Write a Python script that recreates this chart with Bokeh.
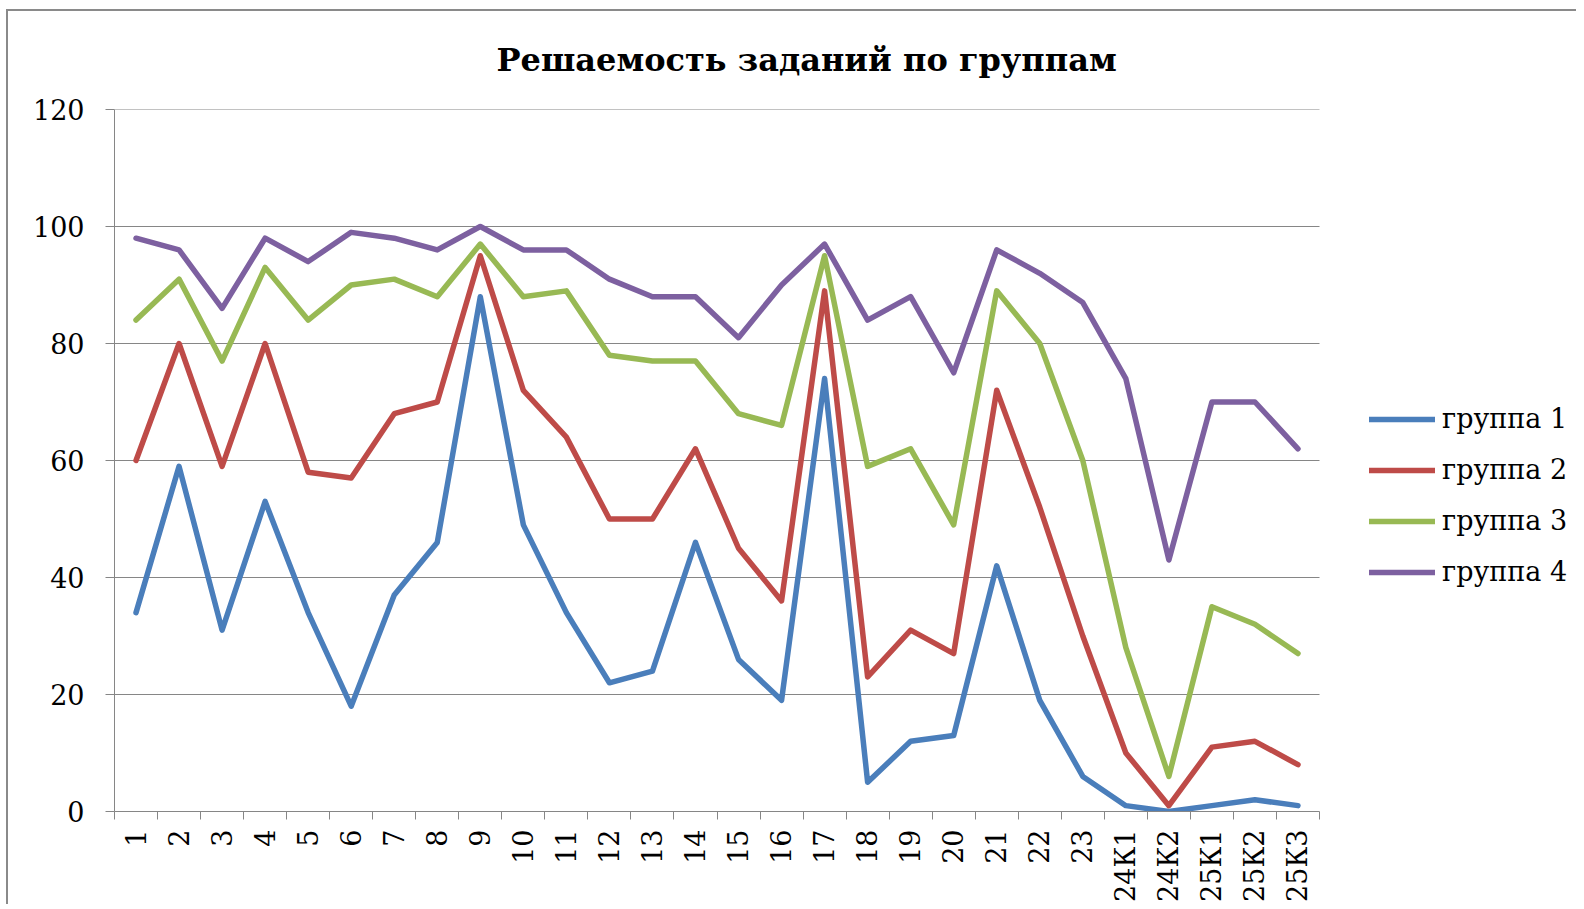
import math
from bokeh.plotting import figure
from bokeh.models import Range1d, FixedTicker, Legend, LegendItem
from bokeh.embed import file_html
from bokeh.resources import INLINE

categories = ["1", "2", "3", "4", "5", "6", "7", "8", "9", "10", "11", "12", "13", "14",
              "15", "16", "17", "18", "19", "20", "21", "22", "23",
              "24К1", "24К2", "25К1", "25К2", "25К3"]
group1 = [34, 59, 31, 53, 34, 18, 37, 46, 88, 49, 34, 22, 24, 46,
          26, 19, 74, 5, 12, 13, 42, 19, 6, 1, 0, 1, 2, 1]
group2 = [60, 80, 59, 80, 58, 57, 68, 70, 95, 72, 64, 50, 50, 62,
          45, 36, 89, 23, 31, 27, 72, 52, 30, 10, 1, 11, 12, 8]
group3 = [84, 91, 77, 93, 84, 90, 91, 88, 97, 88, 89, 78, 77, 77,
          68, 66, 95, 59, 62, 49, 89, 80, 60, 28, 6, 35, 32, 27]
group4 = [98, 96, 86, 98, 94, 99, 98, 96, 100, 96, 96, 91, 88, 88,
          81, 90, 97, 84, 88, 75, 96, 92, 87, 74, 43, 70, 70, 62]
series_names = ["группа 1", "группа 2", "группа 3", "группа 4"]
series_values = [group1, group2, group3, group4]
colors = ["#4A7EBB", "#BE4B48", "#98B954", "#7D60A0"]
y_ticks = [0, 20, 40, 60, 80, 100, 120]
title_text = "Решаемость заданий по группам"

FONT = "DejaVu Serif"
GRID = "#868686"

W, H = 1570, 895
BORDER_L, BORDER_R = 106, 0
PLOT_W = 1205            # pixel width of the category area
n = len(categories)
x = [i + 0.5 for i in range(n)]
frame_w = W - BORDER_L - BORDER_R
x_end = n * frame_w / PLOT_W   # extra room at right for the legend

p = figure(width=W, height=H, output_backend="svg", toolbar_location=None,
           x_range=Range1d(0, x_end), y_range=Range1d(0, 120),
           min_border_left=BORDER_L, min_border_right=BORDER_R,
           min_border_top=97, min_border_bottom=95,
           title=title_text)
p.styles = {"border-top": "2px solid #8a8a8a", "border-left": "2px solid #8a8a8a",
            "margin-left": "6px", "margin-top": "9px"}
p.background_fill_color = "white"
p.border_fill_color = "white"
p.outline_line_color = None

p.title.text_font = FONT
p.title.text_font_style = "bold"
p.title.text_font_size = "32px"
p.title.text_color = "#000000"
p.title.align = "left"
p.title.vertical_align = "top"
p.title.offset = 382
p.title.standoff = 58

# x axis
xa = p.xaxis[0]
xa.bounds = (0, n)
xa.ticker = FixedTicker(ticks=x, minor_ticks=list(range(n + 1)))
xa.major_label_overrides = {xi: c for xi, c in zip(x, categories)}
xa.major_label_orientation = math.pi / 2
xa.major_tick_out = 0
xa.major_tick_in = 0
xa.minor_tick_out = 8
xa.minor_tick_in = 0
xa.minor_tick_line_color = GRID
xa.axis_line_color = GRID
xa.major_label_standoff = 10
xa.major_label_text_font = FONT
xa.major_label_text_font_size = "27px"
xa.major_label_text_color = "#000000"

# y axis
ya = p.yaxis[0]
ya.ticker = FixedTicker(ticks=y_ticks)
ya.major_tick_out = 9
ya.major_tick_in = 0
ya.minor_tick_out = 0
ya.minor_tick_in = 0
ya.major_tick_line_color = GRID
ya.axis_line_color = GRID
ya.major_label_standoff = 21
ya.major_label_text_font = FONT
ya.major_label_text_font_size = "27px"
ya.major_label_text_color = "#000000"

p.xgrid.grid_line_color = None
p.ygrid.grid_line_color = None

# horizontal gridlines limited to the category area
gy = [t for t in y_ticks if t > 0]
p.segment(x0=[0] * len(gy), x1=[n] * len(gy), y0=gy, y1=gy, line_color=GRID, line_width=1)

items = []
for name, vals, col in zip(series_names, series_values, colors):
    r = p.line(x, vals, line_color=col, line_width=5.5, line_join="round", line_cap="round")
    items.append(LegendItem(label=name, renderers=[r]))

legend = Legend(items=items, location=(1255, 224))
legend.background_fill_alpha = 0
legend.border_line_alpha = 0
legend.padding = 0
legend.margin = 0
legend.spacing = 20
legend.glyph_width = 66
legend.glyph_height = 20
legend.label_height = 20
legend.label_standoff = 7
legend.label_text_font = FONT
legend.label_text_font_size = "27px"
legend.label_text_color = "#000000"
p.add_layout(legend, "center")

open("out.html", "w").write(file_html(p, INLINE))
